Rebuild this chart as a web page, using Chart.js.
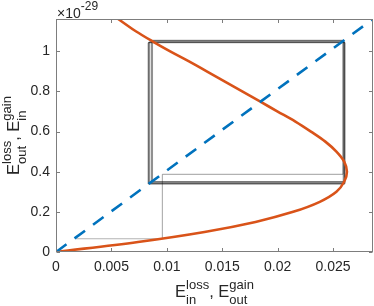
<!DOCTYPE html>
<html><head><meta charset="utf-8">
<script src="https://cdn.jsdelivr.net/npm/chart.js@4"></script>
<style>html,body{margin:0;padding:0;background:#fff}canvas{display:block}</style>
</head><body>
<canvas id="c" width="374" height="306"></canvas>
<script>
// ---- data (y values in units of 1e-29) ----
const xTickValues = [0, 0.005, 0.01, 0.015, 0.02, 0.025];
const xTickLabels = ['0', '0.005', '0.01', '0.015', '0.02', '0.025'];
const yTickValues = [0, 0.2, 0.4, 0.6, 0.8, 1];
const yTickLabels = ['0', '0.2', '0.4', '0.6', '0.8', '1'];
const yExponentLabel = '-29';

// orange curve (x as a function of y)
const curveY = [0, 0.05, 0.1, 0.15, 0.2, 0.25, 0.3, 0.35, 0.4, 0.45, 0.5, 0.55, 0.6, 0.65, 0.7, 0.75, 0.8, 0.85, 0.9, 0.95, 1.0, 1.05, 1.1, 1.15, 1.2];
const curveX = [0, 0.0074, 0.0134, 0.0180, 0.0214, 0.0238, 0.0253, 0.0260, 0.02625, 0.0260, 0.0253, 0.0243, 0.0230, 0.0216, 0.0200, 0.0184, 0.0168, 0.0152, 0.0136, 0.0120, 0.0103, 0.0087, 0.0072, 0.0059, 0.0046];

// blue dashed diagonal
const diagX = [0, 0.0286];
const diagY = [0, 1.161];

// grey cobweb path
const cobwebX = [0.0018, 0.0096, 0.0096, 0.0259, 0.0259, 0.00870, 0.00870, 0.02592, 0.02592, 0.00862, 0.00862, 0.02600, 0.02600, 0.00845, 0.00845, 0.02604, 0.02604, 0.00836, 0.00836, 0.02606, 0.02606, 0.00832, 0.00832, 0.02606];
const cobwebY = [0.066, 0.066, 0.387, 0.387, 1.055, 1.055, 0.351, 0.351, 1.053, 1.053, 0.348, 0.348, 1.048, 1.048, 0.343, 0.343, 1.045, 1.045, 0.340, 0.340, 1.043, 1.043, 0.339, 0.339];

// ---- build datasets ----
const FONT = '"Liberation Sans", Arial, Helvetica, sans-serif';
const TXT = '#262626';
const datasets = [];
for (let i = 0; i < cobwebX.length - 1; i++) {
  datasets.push({
    data: [{x: cobwebX[i], y: cobwebY[i]}, {x: cobwebX[i + 1], y: cobwebY[i + 1]}],
    showLine: true, borderColor: i < 3 ? 'rgba(0,0,0,0.3)' : 'rgba(0,0,0,0.4)', borderWidth: 1.2,
    pointRadius: 0, order: 3
  });
}
datasets.push({
  data: curveX.map((x, i) => ({x, y: curveY[i]})),
  showLine: true, borderColor: '#D95319', borderWidth: 2.6,
  pointRadius: 0, tension: 0.35, order: 2
});
datasets.push({
  data: diagX.map((x, i) => ({x, y: diagY[i]})),
  showLine: true, borderColor: '#0072BD', borderWidth: 2.6, borderDash: [13, 10],
  pointRadius: 0, order: 1
});

function drawRich(ctx, parts, cx, base) {
  const big = '16.5px ' + FONT, small = '13px ' + FONT;
  let w = 0;
  const widths = parts.map(p => {
    let pw;
    if (p.t !== undefined) { ctx.font = big; pw = ctx.measureText(p.t).width; }
    else { ctx.font = small; pw = Math.max(ctx.measureText(p.sup).width, ctx.measureText(p.sub).width); }
    w += pw; return pw;
  });
  let x = cx - w / 2;
  ctx.textAlign = 'left'; ctx.textBaseline = 'alphabetic'; ctx.fillStyle = TXT;
  parts.forEach((p, i) => {
    if (p.t !== undefined) { ctx.font = big; ctx.fillText(p.t, x, base); }
    else { ctx.font = small; ctx.fillText(p.sup, x, base - 8); ctx.fillText(p.sub, x, base + 7); }
    x += widths[i];
  });
}

const decor = {
  id: 'decor',
  afterDraw(chart) {
    const {ctx, chartArea: a, scales} = chart;
    ctx.save();
    // frame
    ctx.strokeStyle = '#7d7d7d'; ctx.lineWidth = 1;
    const L = Math.round(a.left) + 0.5, R = Math.round(a.right) - 0.5, T = Math.round(a.top) + 0.5, B = Math.round(a.bottom) - 0.5;
    ctx.strokeRect(L, T, R - L, B - T);
    // inward ticks on all four sides
    const tl = 3.5;
    ctx.beginPath();
    xTickValues.forEach(v => {
      const px = Math.round(scales.x.getPixelForValue(v)) + 0.5;
      ctx.moveTo(px, B); ctx.lineTo(px, B - tl);
      ctx.moveTo(px, T); ctx.lineTo(px, T + tl);
    });
    yTickValues.forEach(v => {
      const py = Math.round(scales.y.getPixelForValue(v)) + 0.5;
      ctx.moveTo(L, py); ctx.lineTo(L + tl, py);
      ctx.moveTo(R, py); ctx.lineTo(R - tl, py);
    });
    ctx.stroke();
    // exponent
    ctx.fillStyle = TXT; ctx.textBaseline = 'alphabetic'; ctx.textAlign = 'left';
    ctx.font = '14px ' + FONT;
    ctx.fillText('\u00d710', 57, 18);
    const w10 = ctx.measureText('\u00d710').width;
    ctx.font = '12px ' + FONT;
    ctx.fillText(yExponentLabel, 57 + w10, 10);
    // axis titles
    const cxT = (a.left + a.right) / 2;
    drawRich(ctx, [{t: 'E'}, {sup: 'loss', sub: 'in'}, {t: ', E'}, {sup: 'gain', sub: 'out'}], cxT, 297);
    ctx.save();
    ctx.translate(19, (a.top + a.bottom) / 2);
    ctx.rotate(-Math.PI / 2);
    drawRich(ctx, [{t: 'E'}, {sup: 'loss', sub: 'out'}, {t: ', E'}, {sup: 'gain', sub: 'in'}], 0, 0);
    ctx.restore();
    ctx.restore();
  }
};

new Chart(document.getElementById('c'), {
  type: 'scatter',
  data: {datasets},
  options: {
    responsive: false, animation: false, devicePixelRatio: 1,
    layout: {padding: {top: 19, right: 1, left: 0, bottom: 0}},
    plugins: {legend: {display: false}, tooltip: {enabled: false}},
    scales: {
      x: {
        type: 'linear', min: 0, max: 0.0286,
        grid: {display: false, drawTicks: false}, border: {display: false},
        ticks: {padding: 7, color: TXT, font: {family: FONT, size: 14}, autoSkip: false, maxRotation: 0,
          callback: v => { const i = xTickValues.findIndex(t => Math.abs(t - v) < 1e-9); return i >= 0 ? xTickLabels[i] : ''; }},
        afterBuildTicks: s => { s.ticks = xTickValues.map(v => ({value: v})); },
        afterFit: s => { s.height = 54; }
      },
      y: {
        type: 'linear', min: 0, max: 1.161,
        grid: {display: false, drawTicks: false}, border: {display: false},
        ticks: {padding: 6, color: TXT, font: {family: FONT, size: 14}, autoSkip: false,
          callback: v => { const i = yTickValues.findIndex(t => Math.abs(t - v) < 1e-9); return i >= 0 ? yTickLabels[i] : ''; }},
        afterBuildTicks: s => { s.ticks = yTickValues.map(v => ({value: v})); },
        afterFit: s => { s.width = 56; }
      }
    }
  },
  plugins: [decor]
});
</script>
</body></html>
